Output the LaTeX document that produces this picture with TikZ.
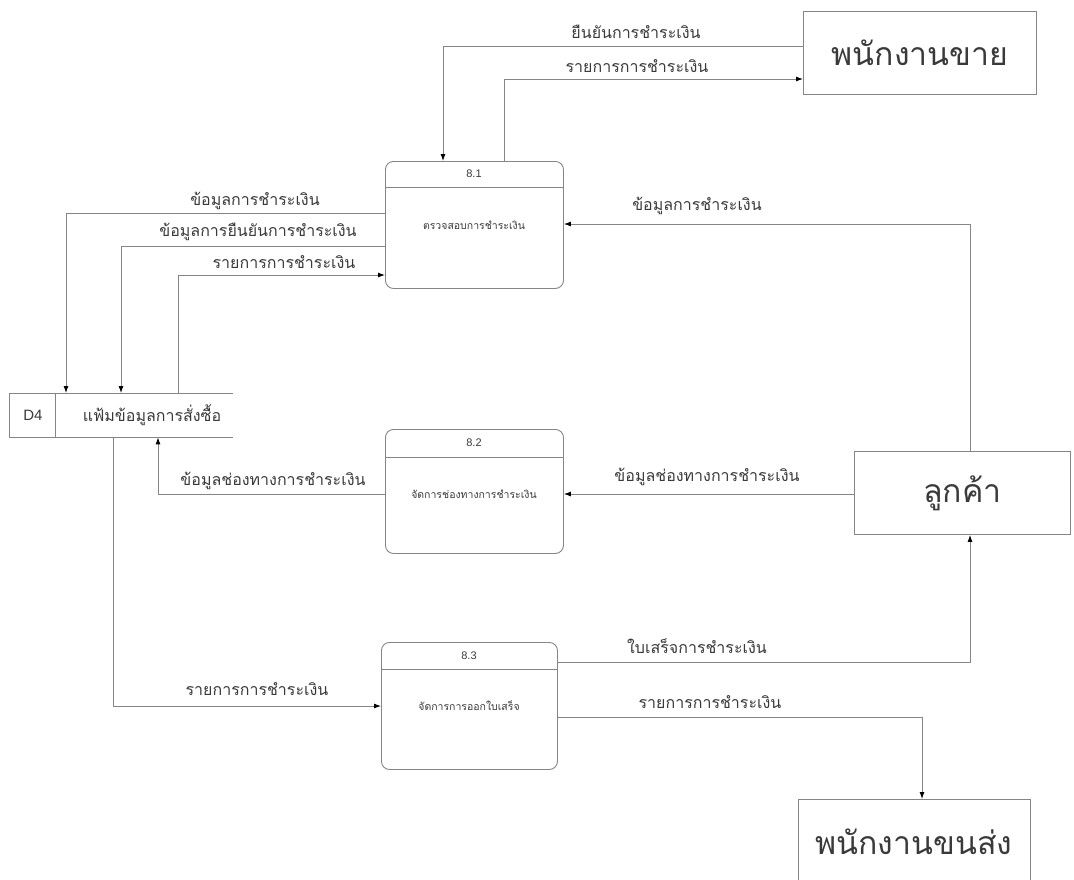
\documentclass[tikz,border=0pt]{standalone}
\usepackage{fontspec}
\setmainfont{Liberation Sans}
\newfontfamily\thaifont[Script=Thai]{Loma}
\usetikzlibrary{arrows.meta}
\definecolor{linegray}{HTML}{858585}
\definecolor{textgray}{HTML}{3A3A3A}
\begin{document}
\begin{tikzpicture}[x=1pt,y=-1pt,
  ln/.style={draw=linegray,line width=0.9pt},
  flow/.style={ln,-{Latex[length=7pt,width=5pt,color=black,fill=black]}},
  entity/.style={ln,rectangle,anchor=north west,inner sep=0pt},
  enttext/.style={text=textgray,font=\thaifont\fontsize{32}{38}\selectfont},
  procbox/.style={ln,rectangle,rounded corners=8pt,anchor=north west,inner sep=0pt},
  proclabel/.style={text=textgray,font=\fontsize{11}{13}\selectfont},
  proctext/.style={text=textgray,font=\thaifont\fontsize{10.5}{12}\selectfont},
  flowlabel/.style={text=textgray,font=\thaifont\fontsize{16}{18}\selectfont,inner sep=0pt}]
\useasboundingbox[fill=white] (0,0) rectangle (1074,879);

% external entities
\node[entity,minimum width=233pt,minimum height=83pt] (sales) at (803,11) {};
\node[enttext] (salest) at (sales.center) {พนักงานขาย};
\node[entity,minimum width=216pt,minimum height=83pt] (cust) at (854,451) {};
\node[enttext] (custt) at (cust.center) {ลูกค้า};
\node[entity,minimum width=232pt,minimum height=90pt] (ship) at (798,799) {};
\node[enttext] (shipt) at (914,842) {พนักงานขนส่ง};

% processes
\node[procbox,minimum width=178pt,minimum height=127pt] (p81) at (385,161) {};
\draw[ln] (p81.west |- 0,187) -- (p81.east |- 0,187);
\node[proclabel] (p81n) at (474,174) {8.1};
\node[proctext] (p81t) at (474,225) {ตรวจสอบการชำระเงิน};

\node[procbox,minimum width=178pt,minimum height=124pt] (p82) at (385,429) {};
\draw[ln] (p82.west |- 0,457) -- (p82.east |- 0,457);
\node[proclabel] (p82n) at (474,443) {8.2};
\node[proctext] (p82t) at (474,494) {จัดการช่องทางการชำระเงิน};

\node[procbox,minimum width=176pt,minimum height=127pt] (p83) at (381,642) {};
\draw[ln] (p83.west |- 0,669) -- (p83.east |- 0,669);
\node[proclabel] (p83n) at (469,656) {8.3};
\node[proctext] (p83t) at (469,706) {จัดการการออกใบเสร็จ};

% data store
\node[anchor=north west,inner sep=0pt,minimum width=224pt,minimum height=44pt] (d4) at (9,393) {};
\draw[ln] (d4.north east) -- (d4.north west) -- (d4.south west) -- (d4.south east);
\draw[ln] (d4.north -| 55,0) -- (d4.south -| 55,0);
\node[text=textgray,font=\fontsize{15}{18}\selectfont] (d4id) at (33,415) {D4};
\node[text=textgray,font=\thaifont\fontsize{16}{19}\selectfont] (d4t) at (152,415) {แฟ้มข้อมูลการสั่งซื้อ};

% flows
\draw[flow] (sales.west |- 0,46) -| (p81.north -| 443,0);
\node[flowlabel] (l1) at (636,32) {ยืนยันการชำระเงิน};
\draw[flow] (p81.north -| 504,0) |- (sales.west |- 0,79);
\node[flowlabel] (l2) at (637,66) {รายการการชำระเงิน};

\draw[flow] (p81.west |- 0,213) -| (d4.north -| 66,0);
\node[flowlabel] (l3) at (255,201) {ข้อมูลการชำระเงิน};
\draw[flow] (p81.west |- 0,246) -| (d4.north -| 121,0);
\node[flowlabel] (l4) at (258,232) {ข้อมูลการยืนยันการชำระเงิน};
\draw[flow] (d4.north -| 178,0) |- (p81.west |- 0,275);
\node[flowlabel] (l5) at (284,262) {รายการการชำระเงิน};

\draw[flow] (cust.north -| 970,0) |- (p81.east |- 0,224);
\node[flowlabel] (l6) at (697,206) {ข้อมูลการชำระเงิน};

\draw[flow] (cust.west |- 0,494) -- (p82.east |- 0,494);
\node[flowlabel] (l7) at (707,477) {ข้อมูลช่องทางการชำระเงิน};
\draw[flow] (p82.west |- 0,494) -| (d4.south -| 158,0);
\node[flowlabel] (l8) at (273,481) {ข้อมูลช่องทางการชำระเงิน};

\draw[flow] (d4.south -| 113,0) |- (p83.west |- 0,706);
\node[flowlabel] (l9) at (257,689) {รายการการชำระเงิน};

\draw[flow] (p83.east |- 0,662) -| (cust.south -| 970,0);
\node[flowlabel] (l10) at (697,646) {ใบเสร็จการชำระเงิน};
\draw[flow] (p83.east |- 0,717) -| (ship.north -| 922,0);
\node[flowlabel] (l11) at (710,702) {รายการการชำระเงิน};
\end{tikzpicture}
\end{document}
